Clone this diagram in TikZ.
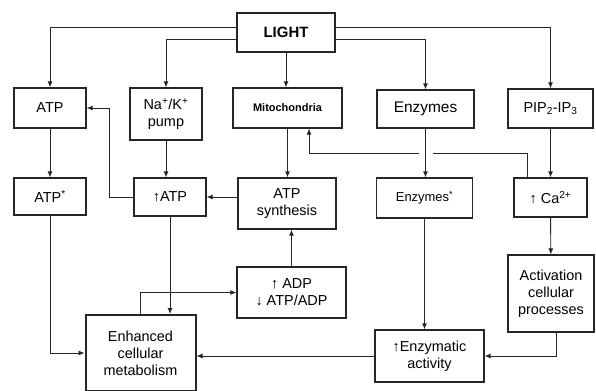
\documentclass[tikz,border=0pt]{standalone}
\usepackage{fontspec}
\setmainfont{Liberation Sans}
\usetikzlibrary{arrows.meta}
\begin{document}
\begin{tikzpicture}[x=1bp, y=-1bp,
  box/.style={draw=black!85, line width=1.2bp, align=center, inner sep=0pt,
    font=\fontsize{14.5}{17}\selectfont},
  arr/.style={draw=black!85, line width=0.9bp, -{Latex[length=6bp,width=5bp]}}]
\useasboundingbox[fill=white] (0,0) rectangle (596,390);
\node[box, minimum width=98bp, minimum height=39bp, font=\bfseries\fontsize{15}{17}\selectfont] (light) at (286,32.5) {LIGHT};
\node[box, minimum width=72bp, minimum height=40bp] (atp) at (50,108) {ATP};
\node[box, minimum width=72bp, minimum height=52bp] (pump) at (166,114) {Na\textsuperscript{+}/K\textsuperscript{+}\\pump};
\node[box, minimum width=109bp, minimum height=40bp, font=\bfseries\fontsize{11}{13}\selectfont] (mito) at (287.5,108) {Mitochondria};
\node[box, minimum width=97bp, minimum height=38bp, font=\fontsize{15.5}{17}\selectfont] (enz) at (425.5,109) {Enzymes};
\node[box, minimum width=85bp, minimum height=39bp] (pip) at (550.5,108.5) {PIP\textsubscript{2}-IP\textsubscript{3}};
\node[box, minimum width=72bp, minimum height=37bp] (atpst) at (50,196.5) {ATP\textsuperscript{*}};
\node[box, minimum width=72bp, minimum height=38bp] (upatp) at (170,197) {↑ATP};
\node[box, minimum width=98bp, minimum height=51bp] (synth) at (287,203.5) {ATP\\synthesis};
\node[box, minimum width=96bp, minimum height=40bp, font=\fontsize{13}{15}\selectfont] (enzst) at (424.5,198) {Enzymes\textsuperscript{*}};
\node[box, minimum width=73bp, minimum height=39bp] (ca) at (550.5,197.5) {↑ Ca\textsuperscript{2+}};
\node[box, minimum width=109bp, minimum height=51bp] (adp) at (291.5,292.5) {↑ ADP\\↓ ATP/ADP};
\node[box, minimum width=86bp, minimum height=77bp] (act) at (551,293.5) {Activation\\cellular\\processes};
\node[box, minimum width=110bp, minimum height=76bp, line width=2bp] (enh) at (140.5,353) {Enhanced\\cellular\\metabolism};
\node[box, minimum width=109bp, minimum height=52bp] (enzact) at (429.5,356) {↑Enzymatic\\activity};
\coordinate (bend) at (309,153);
\draw[arr] ([yshift=5.5bp]light.west) -| (atp);
\draw[arr] ([yshift=-6.5bp]light.west) -| (pump);
\draw[arr] ([yshift=5.5bp]light.east) -| (pip);
\draw[arr] ([yshift=-6.5bp]light.east) -| (enz);
\draw[arr] (light.south) -- (light.south |- mito.north);
\draw[arr] (atp) -- (atpst);
\draw[arr] (atpst.south) |- (enh.west);
\draw[arr] (pump.south) -- (pump.south |- upatp.north);
\draw[arr] (mito.south) -- (mito.south |- synth.north);
\draw[arr] (synth.west |- upatp.east) -- (upatp.east);
\draw[arr] (upatp.west) -- ++(-24,0) |- (atp.east);
\draw[arr] (upatp.south) -- (upatp.south |- enh.north);
\draw[arr] (enh.north) |- (adp.west);
\draw[arr] (adp.north) -- (adp.north |- synth.south);
\draw[arr] ([xshift=-23.5bp]ca.north) |- (bend) -- (bend |- mito.south);
\fill[white] ([xshift=-7bp,yshift=4bp]enz.south |- bend) rectangle ([xshift=7bp,yshift=-4bp]enz.south |- bend);
\draw[arr] (enz.south) -- (enz.south |- enzst.north);
\draw[arr] (enzst.south) -- (enzst.south |- enzact.north);
\draw[arr] (pip) -- (ca);
\draw[arr] (ca) -- (act);
\draw[arr] ([xshift=5bp]act.south) |- (enzact.east);
\draw[arr] (enzact.west) -- (enzact.west -| enh.east);
\end{tikzpicture}
\end{document}
